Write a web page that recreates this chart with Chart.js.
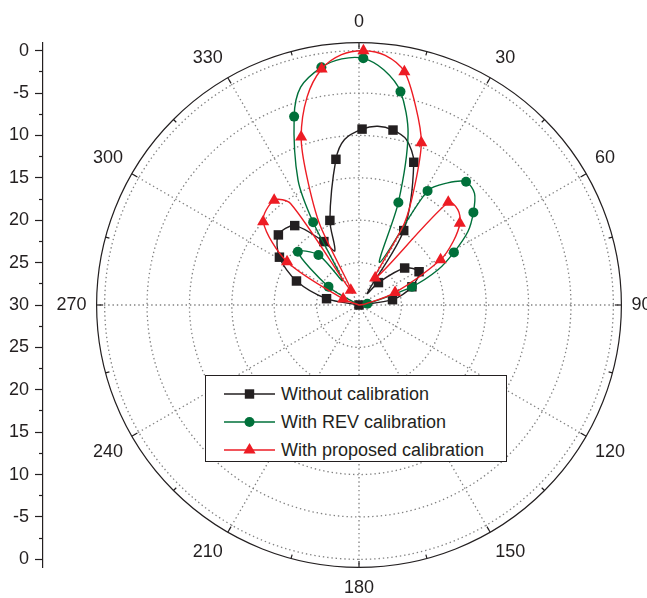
<!DOCTYPE html>
<html>
<head>
<meta charset="utf-8">
<title>Polar radiation pattern</title>
<script src="https://cdn.jsdelivr.net/npm/chart.js@4.4.1/dist/chart.umd.min.js"></script>
<style>
  html, body { margin:0; padding:0; background:#ffffff; overflow:hidden; }
  #wrap { position:relative; width:647px; height:598px; overflow:hidden; }
  #chart { display:block; }
  #legend { position:absolute; left:205px; top:375px; width:302px; height:87px; box-sizing:border-box;
            border:1px solid #231f20; background:#ffffff; padding-top:4px;
            font-family:"Liberation Sans", Arial, Helvetica, sans-serif; font-size:18px; color:#231f20; }
  #legend .row { display:flex; align-items:center; height:28px; white-space:nowrap; }
  #legend svg { margin-left:18px; margin-right:6px; flex:none; }
</style>
</head>
<body>
<div id="wrap">
  <canvas id="chart" width="665" height="600"></canvas>
  <div id="legend"></div>
</div>
<script>
// ---------------- data ----------------
const angleTickLabels = ['0','30','60','90','120','150','180','210','240','270','300','330'];
const radialTickValues = [-30, -25, -20, -15, -10, -5, 0];
const leftTickValues = [30, 25, 20, 15, 10, 5, 0, -5, -10, -15, -20, -25, -30];
const leftTickLabels = ['0','-5','10','15','20','25','30','25','20','15','10','-5','0'];
const leftMinorValues = [27.5, 22.5, 17.5, 12.5, 7.5, 2.5, -2.5, -7.5, -12.5, -17.5, -22.5, -27.5];
const seriesLabels = ['Without calibration', 'With REV calibration', 'With proposed calibration'];

// Without calibration (black squares): marker angles (deg) / values (dB)
const noCalMarkAngles = [271, 281, 291, 301, 311, 321, 331, 341, 351, 1, 11, 21, 31, 41, 51, 61, 71, 81];
const noCalMarkValues = [-30, -26.1, -22.1, -19.05, -17.4, -17.95, -21.45, -19.45, -12.6, -9.25, -8.98, -11.97, -19.76, -26.5, -23.07, -21.9, -23.4, -26.0];
// further points read along the curve between markers (nulls, lobe tops, ends)
const noCalLineAngles = [336, 355, 6, 16, 35, 90];
const noCalLineValues = [-23, -10.4, -8.8, -9.7, -28.3, -30];

// With REV calibration (green circles)
const revMarkAngles = [301, 311, 321, 331, 341, 351, 1, 11, 21, 31, 41, 51, 61, 71, 81];
const revMarkValues = [-25.8, -20.44, -22.4, -18.84, -6.5, -1.62, -0.9, -4.36, -17.04, -14.3, -10.75, -12.64, -17.2, -23.4, -29.0];
const revLineAngles = [285, 326, 334, 345, 356, 6, 16, 26, 36, 46, 56, 66, 90];
const revLineValues = [-30, -26.5, -13.6, -3.4, -0.9, -2.1, -9.0, -24.4, -12.2, -11.06, -14.5, -19.8, -30];

// With proposed calibration (red triangles)
const propMarkAngles = [291, 301, 311, 321, 331, 341, 351, 1, 11, 21, 31, 41, 51, 61, 71];
const propMarkValues = [-28, -20.1, -15.02, -14.1, -28, -9.04, -1.82, 0, -1.96, -9.49, -26.3, -13.95, -14.7, -19, -25.5];
const propLineAngles = [280, 326, 334, 338, 346, 356, 6, 16, 25, 29, 46, 56, 81, 88];
const propLineValues = [-30, -15.6, -19.5, -13.5, -4.7, -0.4, -0.4, -5.7, -14.4, -18.9, -13.8, -16.6, -29.3, -30];

// ---------------- styling constants ----------------
const FONT = '"Liberation Sans", Arial, Helvetica, sans-serif';
const INK = '#231f20';
const GRID = 'rgba(115,115,115,0.9)';
const R_MIN = -30;
const R_OUTER = 0.95;       // outer frame circle lies slightly beyond 0 dB
const COLORS = ['#231f20', '#00703a', '#ed1c24'];

Chart.defaults.font.family = FONT;
Chart.defaults.color = INK;

const degreeLabels = Array.from({length: 360}, (_, i) => i);

function buildSeries(markA, markV, lineA, lineV) {
  const d = new Array(360).fill(null);
  markA.forEach((a, i) => { d[a % 360] = markV[i]; });
  lineA.forEach((a, i) => { d[a % 360] = lineV[i]; });
  return d;
}
const markerSets = [
  new Set(noCalMarkAngles.map(a => a % 360)),
  new Set(revMarkAngles.map(a => a % 360)),
  new Set(propMarkAngles.map(a => a % 360))
];
const markerRadius = [6.7, 5, 7];
const markerStyles = ['rect', 'circle', 'triangle'];

function makeDataset(k, data, order) {
  return {
    label: seriesLabels[k],
    data: data,
    order: order,
    borderColor: COLORS[k],
    backgroundColor: COLORS[k],
    borderWidth: 1.4,
    fill: false,
    tension: 0.3,
    spanGaps: true,
    pointStyle: markerStyles[k],
    pointBackgroundColor: COLORS[k],
    pointBorderColor: COLORS[k],
    pointBorderWidth: 0,
    pointRadius: ctx => markerSets[k].has(ctx.dataIndex) ? markerRadius[k] : 0,
    pointHoverRadius: ctx => markerSets[k].has(ctx.dataIndex) ? markerRadius[k] : 0
  };
}

// ---------------- plugins ----------------
// keep the left dB axis exactly as tall as the polar frame circle
const axisAlign = {
  id: 'axisAlign',
  afterLayout(chart) {
    const r = chart.scales.r, y = chart.scales.y, y2 = chart.scales.y2;
    const top = r.yCenter - r.drawingArea, bottom = r.yCenter + r.drawingArea;
    [y, y2].forEach(s => { s.top = top; s.bottom = bottom; s.height = bottom - top; });
    y2.right = y.right; y2.left = y.right; y2.width = 0;
    [y, y2].forEach(s => { s.configure(); s._gridLineItems = null; s._labelItems = null; });
  }
};

// inward tick marks on the polar frame circle
const frameTicks = {
  id: 'frameTicks',
  afterDatasetsDraw(chart) {
    const r = chart.scales.r, ctx = chart.ctx;
    const R = r.drawingArea;
    ctx.save();
    ctx.strokeStyle = INK;
    ctx.lineWidth = 1.2;
    for (let a = 0; a < 360; a += 15) {
      const len = a % 30 === 0 ? 6.5 : 4;
      const p1 = r.getPointPosition(a, R), p2 = r.getPointPosition(a, R - len);
      ctx.beginPath(); ctx.moveTo(p1.x, p1.y); ctx.lineTo(p2.x, p2.y); ctx.stroke();
    }
    ctx.restore();
  }
};

// ---------------- chart ----------------
const chart = new Chart(document.getElementById('chart'), {
  type: 'radar',
  data: {
    labels: degreeLabels,
    datasets: [
      makeDataset(0, buildSeries(noCalMarkAngles, noCalMarkValues, noCalLineAngles, noCalLineValues), 3),
      makeDataset(1, buildSeries(revMarkAngles, revMarkValues, revLineAngles, revLineValues), 2),
      makeDataset(2, buildSeries(propMarkAngles, propMarkValues, propLineAngles, propLineValues), 1)
    ]
  },
  options: {
    responsive: false,
    animation: false,
    devicePixelRatio: 1,
    events: [],
    layout: { padding: { left: 0, right: 0, top: 11, bottom: 0 } },
    plugins: { legend: { display: false }, tooltip: { enabled: false } },
    elements: { line: { fill: false } },
    scales: {
      r: {
        min: R_MIN,
        max: R_OUTER,
        afterBuildTicks: s => { s.ticks = radialTickValues.concat([R_OUTER]).map(v => ({value: v})); },
        ticks: { display: false },
        grid: {
          circular: true,
          color: c => c.index === 0 ? 'rgba(0,0,0,0)' : (c.tick && c.tick.value > 0 ? INK : GRID),
          lineWidth: c => c.index === 0 ? 0 : (c.tick && c.tick.value > 0 ? 1.2 : 1.3)
        },
        border: {
          dash: c => (c.tick && c.tick.value > 0) ? [] : [1.4, 2.9],
          dashOffset: 0
        },
        angleLines: {
          display: true,
          color: c => c.index % 30 === 0 ? GRID : 'rgba(0,0,0,0)',
          lineWidth: c => c.index % 30 === 0 ? 1.3 : 0,
          borderDash: [1.4, 2.9]
        },
        pointLabels: {
          display: true,
          padding: 10,
          color: INK,
          font: { family: FONT, size: 18 },
          callback: (lbl, i) => i % 30 === 0 ? angleTickLabels[i / 30] : ''
        }
      },
      y: {
        type: 'linear',
        position: 'left',
        weight: 0,
        min: -(30 + R_OUTER),
        max: 30 + R_OUTER,
        afterBuildTicks: s => { s.ticks = leftTickValues.map(v => ({value: v})); },
        afterFit: s => { s.width = 43; s.paddingTop = 0; s.paddingBottom = 0; },
        ticks: {
          autoSkip: false, padding: 6, color: INK,
          font: { family: FONT, size: 18 },
          callback: (v, i) => leftTickLabels[i]
        },
        grid: { drawOnChartArea: false, drawTicks: true, tickLength: 8, color: INK, tickColor: INK, tickWidth: 1.2 },
        border: { display: true, color: INK, width: 1.2 }
      },
      y2: {
        type: 'linear',
        position: 'left',
        weight: 1,
        min: -(30 + R_OUTER),
        max: 30 + R_OUTER,
        afterBuildTicks: s => { s.ticks = leftMinorValues.map(v => ({value: v})); },
        afterFit: s => { s.width = 0; s.paddingTop = 0; s.paddingBottom = 0; },
        ticks: { display: false },
        grid: { drawOnChartArea: false, drawTicks: true, tickLength: 4, color: INK, tickColor: INK, tickWidth: 1.2 },
        border: { display: false }
      }
    }
  },
  plugins: [axisAlign, frameTicks]
});

// ---------------- HTML legend built from the datasets ----------------
function legendSymbol(k) {
  const c = COLORS[k];
  let shape = '';
  if (markerStyles[k] === 'rect') shape = `<rect x="20.8" y="2.3" width="9.4" height="9.4" fill="${c}"/>`;
  else if (markerStyles[k] === 'circle') shape = `<circle cx="25.5" cy="7" r="5" fill="${c}"/>`;
  else shape = `<polygon points="25.5,0 31.6,10.5 19.4,10.5" fill="${c}"/>`;
  return `<svg width="51" height="14" viewBox="0 0 51 14"><line x1="0" y1="7" x2="51" y2="7" stroke="${c}" stroke-width="1.4"/>${shape}</svg>`;
}
const legendEl = document.getElementById('legend');
chart.data.datasets.forEach((ds, k) => {
  const row = document.createElement('div');
  row.className = 'row';
  row.innerHTML = legendSymbol(k) + '<span>' + ds.label + '</span>';
  legendEl.appendChild(row);
});
</script>
</body>
</html>
